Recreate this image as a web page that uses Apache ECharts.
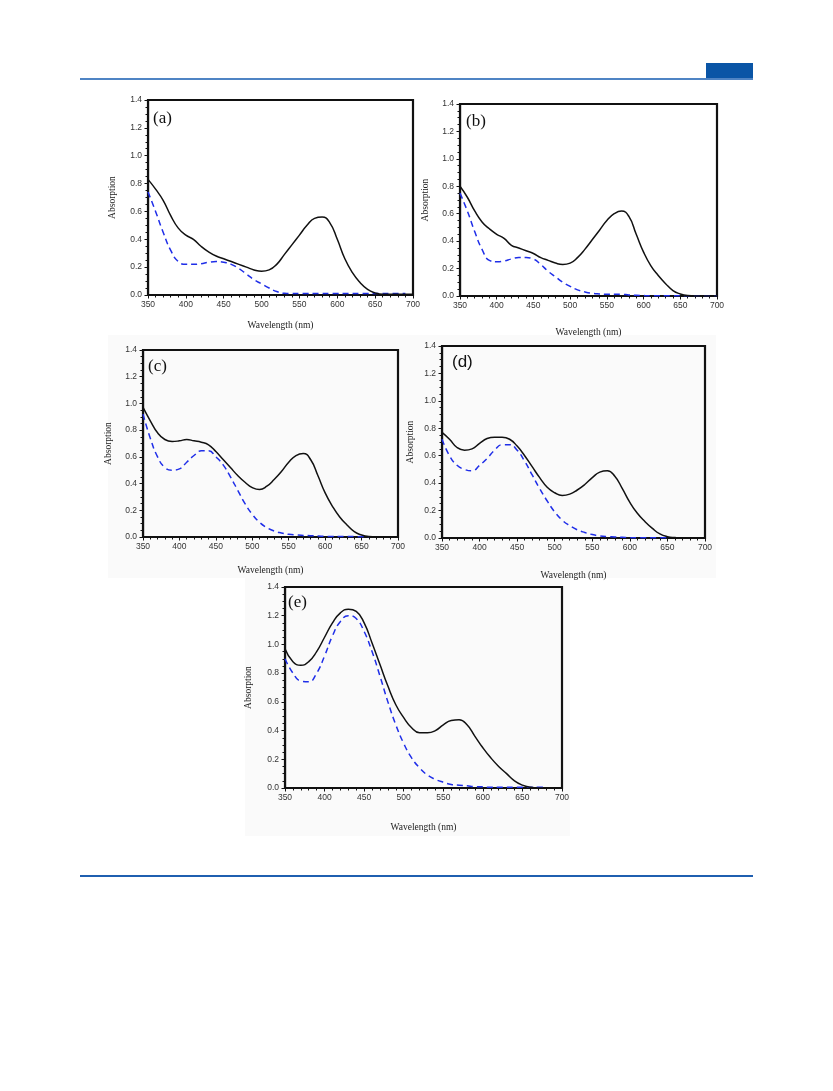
<!DOCTYPE html>
<html>
<head>
<meta charset="utf-8">
<script src="https://cdn.jsdelivr.net/npm/echarts@6/dist/echarts.min.js"></script>
<style>html,body{margin:0;padding:0;background:#fff;}#c{width:833px;height:1091px;}</style>
</head>
<body>
<div id="c"></div>
<script>
// Wavelength grid (nm)
const wavelengths = [350,360,370,380,390,400,410,420,430,440,450,460,470,480,490,500,510,520,530,540,550,560,570,580,590,600,610,620,630,640,650,660,670,680,690,700];
const xTicks = [350,400,450,500,550,600,650,700];
const yTicks = [0.0,0.2,0.4,0.6,0.8,1.0,1.2,1.4];
const panelLabels = ['(a)','(b)','(c)','(d)','(e)'];

const aSolid = [0.83,0.76,0.68,0.57,0.48,0.43,0.40,0.35,0.31,0.28,0.26,0.24,0.22,0.20,0.18,0.17,0.18,0.22,0.29,0.36,0.43,0.50,0.55,0.56,0.52,0.40,0.26,0.16,0.09,0.04,0.015,0.005,0.005,0.005,0.005,0.005];
const aDash  = [0.74,0.60,0.45,0.32,0.24,0.22,0.22,0.225,0.235,0.24,0.235,0.22,0.19,0.15,0.11,0.08,0.05,0.025,0.012,0.01,0.01,0.01,0.01,0.01,0.01,0.01,0.01,0.01,0.01,0.01,0.01,0.01,0.01,0.01,0.01,null];
const bSolid = [0.80,0.72,0.62,0.54,0.49,0.45,0.42,0.37,0.35,0.33,0.31,0.28,0.26,0.24,0.23,0.24,0.28,0.34,0.41,0.48,0.55,0.60,0.62,0.58,0.45,0.32,0.22,0.15,0.09,0.04,0.015,0.003,0,0,0,0];
const bDash  = [0.75,0.62,0.47,0.34,0.26,0.25,0.255,0.27,0.28,0.28,0.27,0.23,0.18,0.14,0.10,0.07,0.045,0.03,0.02,0.015,0.012,0.012,0.012,0.008,0.005,0.003,0.002,0.002,0.002,0.002,0.002,0.002,0.002,0.002,0.002,0.002];
const cSolid = [0.97,0.87,0.78,0.73,0.715,0.72,0.73,0.72,0.71,0.69,0.64,0.58,0.52,0.46,0.41,0.37,0.355,0.38,0.43,0.49,0.56,0.61,0.625,0.58,0.46,0.33,0.23,0.15,0.09,0.04,0.015,0.003,0,0,0,0];
const cDash  = [0.92,0.74,0.60,0.52,0.50,0.51,0.56,0.61,0.645,0.645,0.60,0.54,0.45,0.35,0.25,0.17,0.11,0.07,0.045,0.03,0.02,0.015,0.012,0.01,0.008,0.005,0.003,0.003,0.003,0.003,0.002,0.002,null,null,null,null];
const dSolid = [0.77,0.72,0.66,0.64,0.65,0.69,0.725,0.735,0.735,0.72,0.67,0.60,0.52,0.44,0.37,0.33,0.31,0.32,0.35,0.39,0.44,0.48,0.49,0.45,0.36,0.26,0.18,0.12,0.07,0.03,0.01,0.003,0,0,0,0];
const dDash  = [0.72,0.60,0.53,0.50,0.49,0.53,0.58,0.64,0.68,0.68,0.64,0.56,0.46,0.36,0.27,0.19,0.13,0.09,0.06,0.04,0.025,0.015,0.01,0.008,0.005,0.002,0.002,0.002,0.002,0.002,0.002,null,null,null,null,null];
const eSolid = [0.97,0.88,0.855,0.88,0.95,1.05,1.15,1.22,1.245,1.23,1.15,1.01,0.86,0.71,0.58,0.49,0.42,0.385,0.385,0.40,0.44,0.47,0.475,0.44,0.36,0.28,0.21,0.15,0.10,0.05,0.02,0.005,0,0,0,0];
const eDash  = [0.90,0.80,0.745,0.74,0.80,0.92,1.06,1.16,1.20,1.18,1.09,0.95,0.78,0.60,0.44,0.31,0.21,0.14,0.09,0.06,0.04,0.025,0.02,0.015,0.01,0.008,0.005,0.005,0.005,0.005,0.005,0.005,0.005,0.005,null,null];

const solids = [aSolid,bSolid,cSolid,dSolid,eSolid];
const dashes = [aDash,bDash,cDash,dDash,eDash];

// layout (px)
const grids = [
  {left:148, top:100, width:265, height:195, yGap:31, xGap:25, lx:153, ly:110, serif:true},
  {left:460, top:104, width:257, height:192, yGap:30, xGap:31, lx:466, ly:113, serif:true},
  {left:143, top:350, width:255, height:187, yGap:30, xGap:28, lx:148, ly:358, serif:true},
  {left:442, top:346, width:263, height:192, yGap:27, xGap:32, lx:452, ly:354, serif:false},
  {left:285, top:587, width:277, height:201, yGap:32, xGap:34, lx:288, ly:594, serif:true}
];
const bgRects = [
  {x:108, y:335, w:302, h:243},
  {x:406, y:335, w:310, h:243},
  {x:245, y:578, w:325, h:258}
];

const pairs = v => wavelengths.map((w,i)=>[w, v[i]]);

const option = {
  animation:false,
  backgroundColor:'#fff',
  grid: grids.map(g=>({left:g.left, top:g.top, width:g.width, height:g.height, show:true, borderColor:'#111', borderWidth:2.2, backgroundColor:'transparent'})),
  xAxis: grids.map((g,i)=>({
    type:'value', gridIndex:i, min:350, max:700, interval:50,
    name:'Wavelength (nm)', nameLocation:'middle', nameGap:g.xGap,
    nameTextStyle:{fontFamily:'Liberation Serif', fontSize:9.5, color:'#222'},
    axisLine:{show:true, lineStyle:{color:'#111', width:1.2}},
    axisTick:{show:true, inside:false, length:3.5, lineStyle:{color:'#111'}},
    minorTick:{show:true, splitNumber:5, length:2.5, lineStyle:{color:'#111'}},
    splitLine:{show:false},
    axisLabel:{fontFamily:'Liberation Sans', fontSize:8.5, color:'#333', margin:5,
      formatter: v => xTicks.indexOf(v)>=0 ? String(v) : ''}
  })),
  yAxis: grids.map((g,i)=>({
    type:'value', gridIndex:i, min:0, max:1.4, interval:0.2,
    name:'Absorption', nameLocation:'middle', nameGap:g.yGap,
    nameTextStyle:{fontFamily:'Liberation Serif', fontSize:9.5, color:'#222'},
    axisLine:{show:true, lineStyle:{color:'#111', width:1.2}},
    axisTick:{show:true, inside:false, length:3.5, lineStyle:{color:'#111'}},
    minorTick:{show:true, splitNumber:4, length:2.5, lineStyle:{color:'#111'}},
    splitLine:{show:false},
    axisLabel:{fontFamily:'Liberation Sans', fontSize:8.5, color:'#333', margin:6,
      formatter: v => { const f = v.toFixed(1); return yTicks.map(t=>t.toFixed(1)).indexOf(f)>=0 ? f : ''; }}
  })),
  series: [],
  graphic: []
};

solids.forEach((s,i)=>{
  option.series.push({type:'line', xAxisIndex:i, yAxisIndex:i, data:pairs(s), smooth:0.5, showSymbol:false, z:3,
    lineStyle:{color:'#111', width:1.5}});
  option.series.push({type:'line', xAxisIndex:i, yAxisIndex:i, data:pairs(dashes[i]), smooth:0.5, showSymbol:false, z:2,
    lineStyle:{color:'#1f2ee8', width:1.5, type:[6,4]}});
});

bgRects.forEach(r=>{
  option.graphic.push({type:'rect', shape:{x:r.x, y:r.y, width:r.w, height:r.h}, style:{fill:'#fafafa'}, z:-10, silent:true});
});

grids.forEach((g,i)=>{
  option.graphic.push({type:'text', left:g.lx, top:g.ly, z:10,
    style:{text:panelLabels[i], font: g.serif ? '17px "Liberation Serif"' : '17px "Liberation Sans"', fill:'#111'}});
});

// page header / footer rules
option.graphic.push({type:'rect', shape:{x:706, y:63, width:47, height:15}, style:{fill:'#0a55a6'}});
option.graphic.push({type:'line', shape:{x1:80, y1:79, x2:753, y2:79}, style:{stroke:'#4f84c4', lineWidth:2}});
option.graphic.push({type:'line', shape:{x1:80, y1:876, x2:753, y2:876}, style:{stroke:'#1f5fb0', lineWidth:2}});

const chart = echarts.init(document.getElementById('c'), null, {renderer:'canvas'});
chart.setOption(option);
</script>
</body>
</html>
